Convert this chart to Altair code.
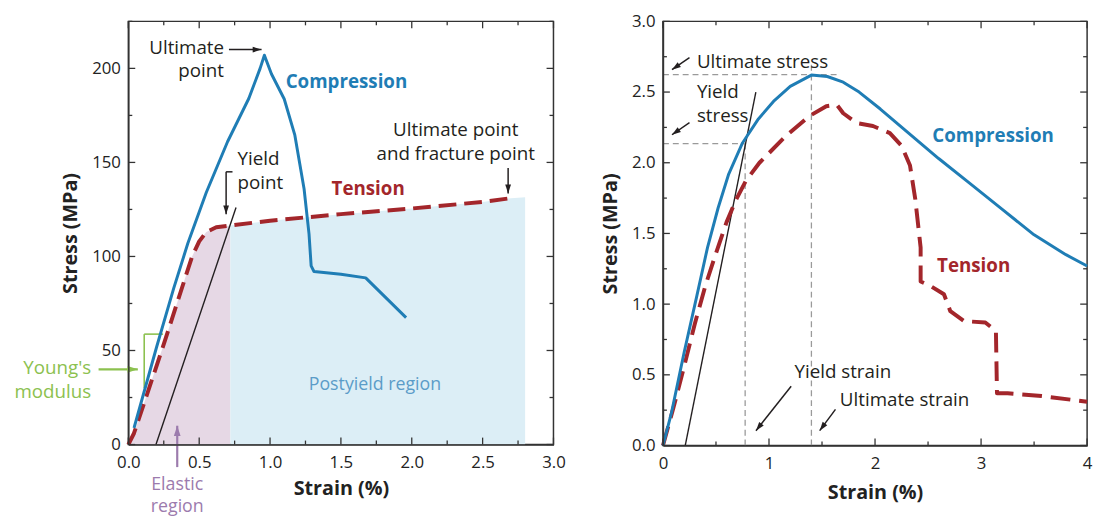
import math
import altair as alt
import pandas as pd

FONT = "Open Sans"
BLUE = "#1f7db5"
RED = "#a3262b"
GREEN = "#8cc14f"
PURPLE = "#9c7bad"
PBLUE = "#5b9cc8"
FILL_P = "#e6d8e5"
FILL_B = "#dceef6"
INK = "#231f20"
GRAY = "#9a9a9a"
FRAME = "#333333"

# ---------------- left panel data (Stress MPa vs Strain %) ----------------
L_comp_x = [0.04, 0.20, 0.32, 0.42, 0.55, 0.70, 0.85, 0.93, 0.96, 0.98, 1.01, 1.10, 1.175, 1.24, 1.275, 1.29, 1.31, 1.50, 1.675, 1.96]
L_comp_y = [8.8, 52, 83, 107, 134, 161, 184, 200, 207, 203, 197, 183.7, 164.5, 136, 112, 95, 92, 90.5, 88.6, 67.5]
L_tens_x = [0.0, 0.04, 0.24, 0.45, 0.50, 0.55, 0.62, 0.72, 1.0, 1.5, 2.0, 2.5, 2.7]
L_tens_y = [0, 6, 51, 100, 108, 113, 115.5, 116.5, 119, 122.5, 125.5, 129, 131]
L_elastic_x = [0.0, 0.04, 0.24, 0.45, 0.50, 0.55, 0.62, 0.72]
L_elastic_y = [0, 6, 51, 100, 108, 113, 115.5, 116.5]
L_post_x = [0.72, 1.0, 1.5, 2.0, 2.5, 2.7, 2.8]
L_post_y = [116.5, 119, 122.5, 125.5, 129, 131, 131.5]
L_yield_x = [0.195, 0.76]
L_yield_y = [0, 126]

L_x_major = [0.0, 0.5, 1.0, 1.5, 2.0, 2.5, 3.0]
L_x_minor = [0.25, 0.75, 1.25, 1.75, 2.25, 2.75]
L_y_major = [0, 50, 100, 150, 200]
L_y_minor = [25, 75, 125, 175, 225]

L_note_txt = ["Ultimate", "point", "Yield", "point", "Ultimate point", "and fracture point"]
L_note_x = [0.675, 0.675, 0.77, 0.77, 2.31, 2.31]
L_note_y = [211.0, 198.5, 151.6, 139.0, 167.2, 154.6]
L_note_align = ["right", "right", "left", "left", "center", "center"]

L_arrow_x0 = [0.71, 0.69, 2.68]
L_arrow_y0 = [210, 145, 147]
L_arrow_x1 = [0.94, 0.69, 2.68]
L_arrow_y1 = [210, 122.4, 133.5]
L_brk_x0 = [0.69]
L_brk_y0 = [145]
L_brk_x1 = [0.735]
L_brk_y1 = [145]

L_green_txt = ["Young's", "modulus"]
L_green_x = [-0.262, -0.262]
L_green_y = [40.6, 27.9]
L_green_arrow = ([-0.21], [40], [0.067], [40])
L_green_brk_x0 = [0.112, 0.112]
L_green_brk_y0 = [30, 58.7]
L_green_brk_x1 = [0.112, 0.245]
L_green_brk_y1 = [58.7, 58.7]

L_purple_txt = ["Elastic", "region"]
L_purple_x = [0.345, 0.345]
L_purple_y = [-21.5, -33.3]
L_purple_arrow = ([0.345], [-12], [0.345], [10])

L_post_label = ["Postyield region"]
L_post_lx = [1.74]
L_post_ly = [31.6]

L_series_txt = ["Compression", "Tension"]
L_series_x = [1.11, 1.434]
L_series_y = [192.5, 135.7]

# ---------------- right panel data ----------------
R_comp_x = [0, 0.08, 0.2, 0.32, 0.42, 0.52, 0.62, 0.75, 0.9, 1.05, 1.2, 1.4, 1.55, 1.7, 1.85, 2.05, 2.3, 2.6, 2.9, 3.2, 3.5, 3.8, 4.0]
R_comp_y = [0, 0.23, 0.66, 1.06, 1.40, 1.68, 1.92, 2.14, 2.31, 2.44, 2.54, 2.62, 2.61, 2.57, 2.50, 2.38, 2.22, 2.03, 1.85, 1.67, 1.49, 1.35, 1.27]
R_tens_x = [0, 0.1, 0.2, 0.3, 0.4, 0.5, 0.6, 0.69, 0.78, 0.91, 1.16, 1.38, 1.54, 1.64, 1.70, 1.83, 1.98, 2.14, 2.25, 2.33, 2.38, 2.43, 2.43, 2.52, 2.65, 2.71, 2.84, 3.04, 3.14, 3.15, 3.25, 3.57, 4.0]
R_tens_y = [0, 0.27, 0.56, 0.86, 1.13, 1.36, 1.58, 1.74, 1.87, 2.0, 2.19, 2.33, 2.40, 2.41, 2.35, 2.28, 2.26, 2.21, 2.12, 1.98, 1.74, 1.40, 1.16, 1.13, 1.07, 0.95, 0.88, 0.87, 0.81, 0.37, 0.37, 0.35, 0.31]
R_yield_x = [0.21, 0.876]
R_yield_y = [0, 2.5]

R_ref_x0 = [0, 0, 0.775, 1.40]
R_ref_y0 = [2.623, 2.135, 0, 0]
R_ref_x1 = [1.64, 0.77, 0.775, 1.40]
R_ref_y1 = [2.623, 2.135, 2.135, 2.70]

R_x_major = [0, 1, 2, 3, 4]
R_x_minor = [0.5, 1.5, 2.5, 3.5]
R_y_major = [0.0, 0.5, 1.0, 1.5, 2.0, 2.5, 3.0]
R_y_minor = [0.25, 0.75, 1.25, 1.75, 2.25, 2.75]

R_note_txt = ["Ultimate stress", "Yield", "stress", "Yield strain", "Ultimate strain"]
R_note_x = [0.32, 0.32, 0.32, 1.24, 1.668]
R_note_y = [2.71, 2.497, 2.328, 0.516, 0.321]

R_arrow_x0 = [0.25, 0.25, 1.209, 1.627]
R_arrow_y0 = [2.744, 2.284, 0.419, 0.256]
R_arrow_x1 = [0.085, 0.085, 0.877, 1.478]
R_arrow_y1 = [2.658, 2.198, 0.105, 0.105]

R_series_txt = ["Compression", "Tension"]
R_series_x = [2.54, 2.585]
R_series_y = [2.186, 1.267]

HEAD = "M0,0 L0.65,2 L-0.65,2 Z"
NOTE = 19
SERIES = 19


def make_panel(W, H, xdom, ydom, xfmt, yfmt, xmaj, xmin, ymaj, ymin, xtp, ytp):
    common = dict(ticks=False, grid=False, labelFlush=False, zindex=1,
                  domainColor=FRAME, domainWidth=1.5,
                  labelFont=FONT, labelFontSize=17, labelColor="#222222",
                  titleFont=FONT, titleFontSize=20, titleFontWeight="bold", titleColor="#222222")
    ax_x = alt.Axis(values=xmaj, format=xfmt, labelPadding=10, title="Strain (%)",
                    titlePadding=xtp, **common)
    ax_y = alt.Axis(values=ymaj, format=yfmt, labelPadding=8, title="Stress (MPa)",
                    titlePadding=ytp, **common)
    sx = alt.Scale(domain=list(xdom), nice=False, zero=False)
    sy = alt.Scale(domain=list(ydom), nice=False, zero=False)
    X = lambda f="x": alt.X(f + ":Q", scale=sx, axis=ax_x)
    Y = lambda f="y": alt.Y(f + ":Q", scale=sy, axis=ax_y)
    X2 = alt.X2("x1:Q")
    Y2 = alt.Y2("y1:Q")
    px = W / (xdom[1] - xdom[0])
    py = H / (ydom[1] - ydom[0])

    def line(xs, ys, color, width, dash=None):
        kw = dict(color=color, strokeWidth=width, strokeJoin="round", clip=False)
        if dash:
            kw["strokeDash"] = dash
            kw["strokeCap"] = "butt"
        df = pd.DataFrame({"x": xs, "y": ys, "o": range(len(xs))})
        return alt.Chart(df).mark_line(**kw).encode(x=X(), y=Y(), order="o:Q")

    def area(xs, ys, color):
        df = pd.DataFrame({"x": xs, "y": ys})
        return alt.Chart(df).mark_area(color=color, opacity=1).encode(x=X(), y=Y())

    def segs(x0, y0, x1, y1, color, width, dash=None):
        kw = dict(color=color, strokeWidth=width)
        if dash:
            kw["strokeDash"] = dash
        df = pd.DataFrame({"x": x0, "y": y0, "x1": x1, "y1": y1})
        return alt.Chart(df).mark_rule(**kw).encode(x=X(), y=Y(), x2=X2, y2=Y2)

    def arrows(x0, y0, x1, y1, color, width=1.5, size=81):
        angs = []
        for a, b, c, d in zip(x0, y0, x1, y1):
            dx = (c - a) * px
            dy = -(d - b) * py
            angs.append(math.degrees(math.atan2(dx, -dy)) % 360)
        df = pd.DataFrame({"x": x1, "y": y1, "ang": angs})
        heads = alt.Chart(df).mark_point(shape=HEAD, filled=True, opacity=1, color=color,
                                         size=size, strokeWidth=0).encode(
            x=X(), y=Y(), angle=alt.Angle("ang:Q", scale=None))
        return segs(x0, y0, x1, y1, color, width) + heads

    def texts(xs, ys, labels, color, size=NOTE, weight="normal", align="left"):
        aligns = align if isinstance(align, list) else [align] * len(xs)
        layers = []
        for al in sorted(set(aligns)):
            sel = [i for i, a in enumerate(aligns) if a == al]
            df = pd.DataFrame({"x": [xs[i] for i in sel], "y": [ys[i] for i in sel],
                               "t": [labels[i] for i in sel]})
            layers.append(alt.Chart(df).mark_text(font=FONT, fontSize=size, fontWeight=weight,
                                                  color=color, align=al, baseline="middle").encode(
                x=X(), y=Y(), text="t:N"))
        return alt.layer(*layers)

    def ticks(vals, side, length):
        if side in ("bottom", "top"):
            df = pd.DataFrame({"x": vals})
            yv = (H, H - length) if side == "bottom" else (0, length)
            return alt.Chart(df).mark_rule(color=FRAME, strokeWidth=1.3).encode(
                x=X(), y=alt.value(yv[0]), y2=alt.value(yv[1]))
        df = pd.DataFrame({"y": vals})
        xv = (0, length) if side == "left" else (W, W - length)
        return alt.Chart(df).mark_rule(color=FRAME, strokeWidth=1.3).encode(
            y=Y(), x=alt.value(xv[0]), x2=alt.value(xv[1]))

    tick_layers = []
    for side in ("bottom", "top"):
        tick_layers += [ticks(xmaj, side, 7), ticks(xmin, side, 4)]
    for side in ("left", "right"):
        tick_layers += [ticks(ymaj, side, 7), ticks(ymin, side, 4)]

    return dict(line=line, area=area, segs=segs, arrows=arrows, texts=texts,
                ticks=alt.layer(*tick_layers), W=W, H=H)


# ---------------- left panel ----------------
W1, H1 = 431, 429
P = make_panel(W1, H1, (0, 3.0), (0, 225), ".1f", "d", L_x_major, L_x_minor, L_y_major, L_y_minor, 9, 11)
left = alt.layer(
    P["area"](L_elastic_x, L_elastic_y, FILL_P),
    P["area"](L_post_x, L_post_y, FILL_B),
    P["segs"](L_green_brk_x0, L_green_brk_y0, L_green_brk_x1, L_green_brk_y1, GREEN, 1.6),
    P["line"](L_yield_x, L_yield_y, INK, 1.4),
    P["line"](L_tens_x, L_tens_y, RED, 4, [18, 8]),
    P["line"](L_comp_x, L_comp_y, BLUE, 3),
    P["texts"](L_note_x, L_note_y, L_note_txt, INK, NOTE, "normal", L_note_align),
    P["texts"](L_green_x, L_green_y, L_green_txt, GREEN, NOTE, "normal", "right"),
    P["texts"](L_purple_x, L_purple_y, L_purple_txt, PURPLE, 18, "normal", "center"),
    P["texts"](L_post_lx, L_post_ly, L_post_label, PBLUE, 18, "normal", "center"),
    P["texts"]([L_series_x[0]], [L_series_y[0]], [L_series_txt[0]], BLUE, SERIES, "bold", "left"),
    P["texts"]([L_series_x[1]], [L_series_y[1]], [L_series_txt[1]], RED, SERIES, "bold", "left"),
    P["arrows"](L_arrow_x0, L_arrow_y0, L_arrow_x1, L_arrow_y1, INK, 1.5, 81),
    P["segs"](L_brk_x0, L_brk_y0, L_brk_x1, L_brk_y1, INK, 1.5),
    P["arrows"](*L_green_arrow, GREEN, 2.2, 110),
    P["arrows"](*L_purple_arrow, PURPLE, 2.2, 110),
    P["ticks"],
).properties(width=W1, height=H1)

# ---------------- right panel ----------------
W2, H2 = 430, 430
Q = make_panel(W2, H2, (0, 4), (0, 3), "d", ".1f", R_x_major, R_x_minor, R_y_major, R_y_minor, 12, 11)
right = alt.layer(
    Q["segs"](R_ref_x0, R_ref_y0, R_ref_x1, R_ref_y1, GRAY, 1.3, [6, 4]),
    Q["line"](R_yield_x, R_yield_y, INK, 1.4),
    Q["line"](R_tens_x, R_tens_y, RED, 4, [20, 9]),
    Q["line"](R_comp_x, R_comp_y, BLUE, 3),
    Q["texts"](R_note_x, R_note_y, R_note_txt, INK, NOTE, "normal", "left"),
    Q["texts"]([R_series_x[0]], [R_series_y[0]], [R_series_txt[0]], BLUE, SERIES, "bold", "left"),
    Q["texts"]([R_series_x[1]], [R_series_y[1]], [R_series_txt[1]], RED, SERIES, "bold", "left"),
    Q["arrows"](R_arrow_x0, R_arrow_y0, R_arrow_x1, R_arrow_y1, INK, 1.5, 81),
    Q["ticks"],
).properties(width=W2, height=H2)

chart = alt.hconcat(left, right, spacing=111, bounds="flush").properties(
    padding={"left": 5, "top": 0, "right": 2, "bottom": 2},
    background="white",
).configure_view(stroke=FRAME, strokeWidth=1.5)

chart.save("out.html", embed_options={"renderer": "svg", "actions": False})
